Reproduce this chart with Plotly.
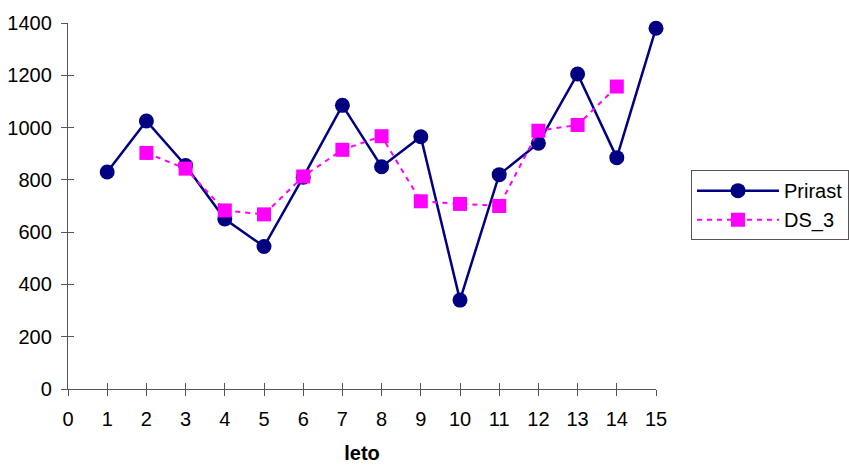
import plotly.graph_objects as go

years = list(range(1, 16))
prirast = [830, 1025, 855, 650, 545, 810, 1085, 850, 965, 340, 820, 940, 1205, 885, 1380]
ds3_years = list(range(2, 15))
ds3 = [903, 843, 683, 668, 813, 915, 967, 718, 708, 700, 988, 1010, 1157]

x_ticks = list(range(0, 16))
y_ticks = list(range(0, 1401, 200))

FONT = "Liberation Sans, Arial, sans-serif"
AX = "#555555"

fig = go.Figure()
fig.add_trace(go.Scatter(
    x=years, y=prirast, name="Prirast", mode="lines+markers",
    line=dict(color="#000080", width=2.5),
    marker=dict(symbol="circle", size=15, color="#000080"),
    cliponaxis=False, legendgroup="a",
))
fig.add_trace(go.Scatter(
    x=ds3_years, y=ds3, name="DS_3", mode="lines+markers",
    line=dict(color="#FF00FF", width=2, dash="5px,5px"),
    marker=dict(symbol="square", size=14, color="#FF00FF"),
    cliponaxis=False, legendgroup="b",
))
# invisible copies on overlay axes to draw the inner half of the cross ticks
fig.add_trace(go.Scatter(
    x=years, y=prirast, xaxis="x2", yaxis="y", mode="markers",
    marker=dict(opacity=0), showlegend=False, hoverinfo="skip",
))
fig.add_trace(go.Scatter(
    x=years, y=prirast, xaxis="x", yaxis="y2", mode="markers",
    marker=dict(opacity=0), showlegend=False, hoverinfo="skip",
))

fig.update_layout(
    width=849, height=466,
    margin=dict(l=68, r=193, t=23, b=77, autoexpand=False),
    paper_bgcolor="white", plot_bgcolor="white",
    font=dict(family=FONT, size=20, color="black"),
    showlegend=True,
    legend=dict(
        x=1.0595, y=0.598, xanchor="left", yanchor="top",
        bordercolor=AX, borderwidth=1, bgcolor="white",
        itemwidth=82, tracegroupgap=0, traceorder="grouped",
        font=dict(size=20),
    ),
    xaxis=dict(
        range=[0, 15], tickvals=x_ticks, ticktext=[str(v) for v in x_ticks],
        showgrid=False, zeroline=False, showline=True, linecolor=AX, linewidth=1.3,
        ticks="outside", ticklen=6, tickcolor=AX, tickwidth=1.3,
        ticklabelstandoff=6,
        title=dict(text="<b>leto</b>", font=dict(size=20), standoff=16),
    ),
    yaxis=dict(
        range=[0, 1400], tickvals=y_ticks, ticktext=[str(v) for v in y_ticks],
        showgrid=False, zeroline=False, showline=True, linecolor=AX, linewidth=1.3,
        ticks="outside", ticklen=6, tickcolor=AX, tickwidth=1.3,
        ticklabelstandoff=5,
    ),
    xaxis2=dict(
        range=[0, 15], tickvals=x_ticks, overlaying="x", side="bottom", anchor="y",
        showgrid=False, zeroline=False, showline=False, showticklabels=False,
        ticks="inside", ticklen=6, tickcolor=AX, tickwidth=1.3,
    ),
    yaxis2=dict(
        range=[0, 1400], tickvals=y_ticks, tickmode="array", overlaying="y",
        side="left", anchor="x",
        showgrid=False, zeroline=False, showline=False, showticklabels=False,
        ticks="inside", ticklen=6, tickcolor=AX, tickwidth=1.3,
    ),
)

fig.write_html("out.html")
